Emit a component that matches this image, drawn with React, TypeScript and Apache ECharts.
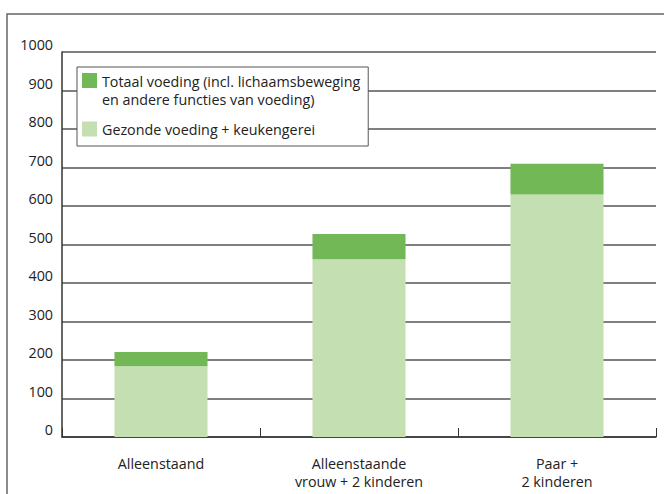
import React, { useEffect, useRef } from "react";
import * as echarts from "echarts";

const categories = ["Alleenstaand", "Alleenstaande\nvrouw + 2 kinderen", "Paar +\n2 kinderen"];
const healthyFood = [184, 462, 630];
const totalFood = [221, 527, 710];
const extraFood = totalFood.map((t, i) => t - healthyFood[i]);
const seriesNames = [
  "Totaal voeding (incl. lichaamsbeweging\nen andere functies van voeding)",
  "Gezonde voeding + keukengerei",
];
const colors = ["#73b856", "#c4dfb1"];

const FONT = "Open Sans";
const FS = 14.3;

export default function App() {
  const ref = useRef<HTMLDivElement>(null);
  useEffect(() => {
    if (!ref.current) return;
    const chart = echarts.init(ref.current, null, { renderer: "svg" });
    chart.setOption({
      animation: false,
      textStyle: { fontFamily: FONT },
      grid: { left: 62, right: 8, top: 52, bottom: 57, containLabel: false },
      graphic: [
        {
          type: "rect",
          shape: { x: 7, y: 14, width: 720, height: 540 },
          style: { fill: "none", stroke: "#666", lineWidth: 1.5 },
          silent: true,
          z: -1,
        },
      ],
      legend: {
        orient: "vertical",
        left: 77,
        top: 67,
        padding: [5, 8, 0, 5],
        itemGap: 4,
        itemWidth: 15,
        itemHeight: 34,
        borderColor: "#555",
        borderWidth: 1,
        backgroundColor: "#fff",
        textStyle: { fontFamily: FONT, fontSize: FS, color: "#222", lineHeight: 18 },
        data: [
          { name: seriesNames[0], icon: "path://M0,0L15,0L15,15L0,15ZM0,34L0.01,34L0,34Z" },
          { name: seriesNames[1], icon: "path://M0,0L0.01,0L0,0ZM0,9.5L15,9.5L15,24.5L0,24.5ZM0,34L0.01,34L0,34Z" },
        ],
        selectedMode: false,
        z: 10,
      },
      xAxis: {
        type: "category",
        data: categories,
        boundaryGap: true,
        axisLine: { lineStyle: { color: "#333", width: 1.5 } },
        axisTick: { show: true, inside: true, length: 9, alignWithLabel: false, lineStyle: { color: "#333", width: 1 } },
        axisLabel: { fontFamily: FONT, fontSize: FS, color: "#222", margin: 17, lineHeight: 18 },
      },
      yAxis: {
        type: "value",
        min: 0,
        max: 1000,
        interval: 100,
        axisLine: { show: true, lineStyle: { color: "#333", width: 1.5 } },
        axisTick: { show: false },
        splitLine: { lineStyle: { color: "#555", width: 1.5 } },
        axisLabel: {
          fontFamily: FONT,
          fontSize: FS,
          color: "#222",
          margin: 9,
          verticalAlign: "bottom",
          lineHeight: 15,
          formatter: (v: number) => String(v),
        },
      },
      series: [
        {
          name: seriesNames[1],
          type: "bar",
          stack: "total",
          data: healthyFood,
          barWidth: "47%",
          itemStyle: { color: colors[1] },
          z: 3,
        },
        {
          name: seriesNames[0],
          type: "bar",
          stack: "total",
          data: extraFood,
          barWidth: "47%",
          itemStyle: { color: colors[0] },
          z: 3,
        },
      ],
    });
    return () => chart.dispose();
  }, []);
  return (
    <div
      ref={ref}
      style={{ position: "absolute", left: 0, top: 0, width: 664, height: 494, background: "#fff" }}
    />
  );
}
